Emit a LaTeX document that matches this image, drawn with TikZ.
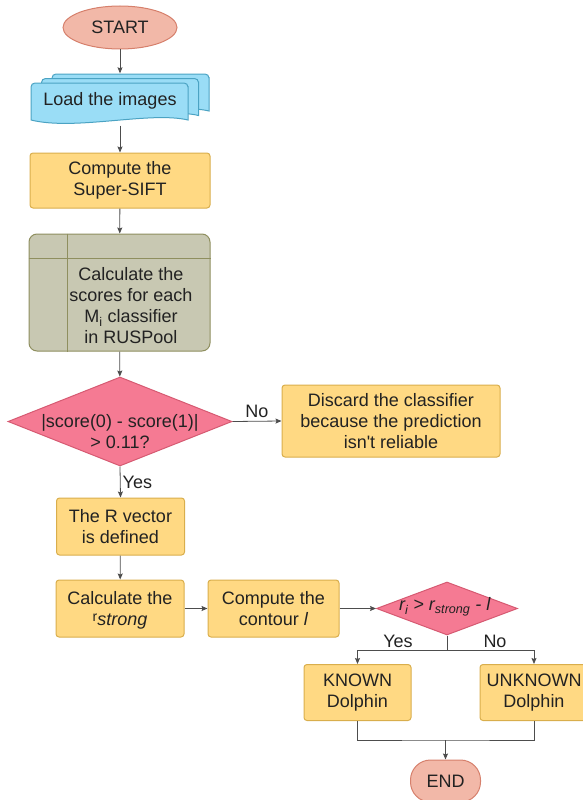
\documentclass[tikz,border=0pt]{standalone}
\usepackage{fontspec}
\setmainfont{Liberation Sans}
\usepackage{xcolor}
\usepackage{tikz}
\usetikzlibrary{shapes.geometric,arrows.meta,positioning,calc}

\definecolor{termfill}{HTML}{F2B8A8}
\definecolor{termline}{HTML}{D6806C}
\definecolor{procfill}{HTML}{FFD983}
\definecolor{procline}{HTML}{D9AE4C}
\definecolor{docfill}{HTML}{9ADDF6}
\definecolor{docline}{HTML}{4BA3C3}
\definecolor{storefill}{HTML}{C8C8B2}
\definecolor{storeline}{HTML}{8F8F5F}
\definecolor{decfill}{HTML}{F57A93}
\definecolor{decline}{HTML}{D65A72}
\definecolor{wiregray}{HTML}{4D4D4D}
\definecolor{inktext}{HTML}{222222}

\begin{document}
\begin{tikzpicture}[x=1pt,y=-1pt,
  font=\fontsize{18}{21}\selectfont, text=inktext,
  term/.style={ellipse,draw=termline,fill=termfill,line width=1pt,inner sep=0pt},
  proc/.style={rectangle,rounded corners=3pt,draw=procline,fill=procfill,line width=1pt,align=center,inner sep=0pt},
  docshape/.style={draw=docline,fill=docfill,line width=1pt},
  dec/.style={diamond,draw=decline,fill=decfill,line width=1pt,inner sep=0pt},
  wire/.style={draw=wiregray,line width=0.8pt},
  arr/.style={wire,-{Stealth[length=6pt,width=5pt,inset=1pt]}},
  lbl/.style={inner sep=0pt}]
\useasboundingbox (0,0) rectangle (582,800);

% Start
\node[term,minimum width=114pt,minimum height=43pt] (start) at (120,27.5) {START};

% Load the images (multi document)
\foreach \d in {2,1,0}{
  \begin{scope}[shift={(10.5*\d,-4.5*\d)}]
    \draw[docshape] (31,120) -- (31,90) [rounded corners=4pt] -- (31,83) -- (188,83) -- (188,90) [sharp corners] -- (188,120)
      .. controls (150,111) and (75,131) .. (31,120) -- cycle;
  \end{scope}
}
\node[minimum width=178pt,minimum height=52pt,inner sep=0pt] (load) at (120,99.5) {};
\node (loadtxt) at (110,101) {Load the images};

% Super-SIFT
\node[proc,minimum width=180pt,minimum height=55pt] (sift) at (120,180.5) {Compute the\\Super-SIFT};

% Scores in RUSPool
\node[rectangle,rounded corners=8pt,draw=storeline,fill=storefill,line width=1pt,minimum width=181pt,minimum height=117pt] (rus) at (119.5,292.5) {};
\draw[storeline,line width=1pt] ($(rus.north west)+(39,0)$) -- ($(rus.south west)+(39,0)$);
\draw[storeline,line width=1pt] ($(rus.north west)+(0,25)$) -- ($(rus.north east)+(0,25)$);
\node[align=center] (rustxt) at (131,306) {Calculate the\\scores for each\\M\textsubscript{i} classifier\\in RUSPool};

% First decision
\node[dec,minimum width=224pt,minimum height=89pt] (score) at (120,421.5) {};
\node[align=center] (scoretxt) at (120,432) {|score(0) - score(1)|\\> 0.11?};
\node[proc,minimum width=218pt,minimum height=72pt] (discard) at (391,421) {Discard the classifier\\because the prediction\\isn\textquotesingle t reliable};

% R vector and contour
\node[proc,minimum width=128pt,minimum height=57pt] (rvec) at (120.5,526.5) {The R vector\\is defined};
\node[proc,minimum width=128pt,minimum height=57pt] (rstr) at (120,608.5) {Calculate the\\\raisebox{4pt}[0pt][0pt]{\fontsize{14}{14}\selectfont r}\raisebox{0pt}[\height][0pt]{\textit{strong}}};
\node[proc,minimum width=131pt,minimum height=57pt] (cont) at (273.5,608.5) {Compute the\\contour \textit{l}};

% Second decision
\node[dec,minimum width=141pt,minimum height=53pt] (rdec) at (447,608.5) {};
\node (rdectxt) at (445,607) {\textit{r\textsubscript{i} > r\textsubscript{strong} - l}};
\node[proc,minimum width=107pt,minimum height=56pt] (known) at (357.5,692.5) {KNOWN\\Dolphin};
\node[proc,minimum width=108pt,minimum height=56pt] (unknown) at (534,692.5) {UNKNOWN\\Dolphin};

% End
\node[rectangle,rounded corners=20pt,draw=termline,fill=termfill,line width=1pt,minimum width=70pt,minimum height=42pt] (finish) at (445.5,781) {END};

% Connectors
\draw[arr] (start) -- (load);
\draw[arr] (load) -- (sift);
\draw[arr] (sift) -- (rus);
\draw[arr] (rus) -- (score);
\draw[arr] (score.east) -- (discard.west) node[lbl,midway,above=3pt] {No};
\draw[arr] (score.south) -- (rvec.north) node[lbl,midway,right=2pt] {Yes};
\draw[arr] (rvec) -- (rstr);
\draw[arr] (rstr) -- (cont);
\draw[arr] (cont) -- (rdec);
\coordinate (split) at ($(rdec.south)+(0,15)$);
\draw[wire] (rdec.south) -- (split);
\draw[arr] (split) -| (known.north);
\draw[arr] (split) -| (unknown.north);
\node[lbl] (yeslbl) at (398,641) {Yes};
\node[lbl] (nolbl) at (495,641) {No};
\coordinate (join) at (445.5,740);
\draw[wire] (known.south) |- (join) -| (unknown.south);
\draw[arr] (join) -- (finish.north);
\end{tikzpicture}
\end{document}
